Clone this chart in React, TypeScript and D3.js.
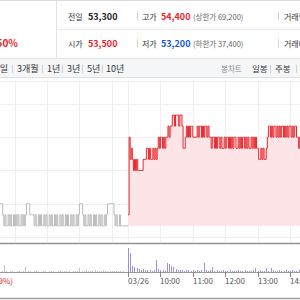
import * as d3 from "d3";
import { useEffect, useRef } from "react";

// 전일 (2분 간격, 11:32 ~ 15:20) 체결가
const prevStart = "11:32";
const prevPrices = [
  53500, 53500, 53500, 53400, 53300, 53400, 53300, 53300, 53400, 53300,
  53400, 53300, 53300, 53400, 53300, 53400, 53300, 53400, 53300, 53300,
  53400, 53300, 53400, 53300, 53400, 53500, 53500, 53500, 53400, 53400,
  53400, 53400, 53300, 53400, 53300, 53300, 53400, 53300, 53400, 53300,
  53300, 53400, 53300, 53400, 53300, 53300, 53400, 53300, 53400, 53300,
  53300, 53400, 53300, 53400, 53300, 53300, 53400, 53300, 53400, 53300,
  53300, 53400, 53300, 53400, 53300, 53300, 53400, 53300, 53400, 53300,
  53300, 53400, 53300, 53400, 53500, 53500, 53500, 53400, 53300, 53400,
  53300, 53300, 53400, 53300, 53400, 53300, 53300, 53400, 53300, 53400,
  53300, 53300, 53400, 53300, 53400, 53300, 53300, 53400, 53300, 53400,
  53500, 53500, 53500, 53500, 53500, 53500, 53400, 53300, 53400, 53300,
  53300, 53400, 53300, 53300,
];
const prevClose = 53300;

// 당일 (2분 간격, 09:00 ~ 14:20)
const todayStart = "09:00";
const todayPrices = [
  53400, 54100, 53900, 54000, 53900, 53800, 53900, 53800, 53900, 53800,
  53800, 53800, 53800, 53800, 53900, 53900, 53900, 54000, 54000, 53900,
  54000, 53900, 53900, 54000, 53900, 54000, 53900, 54000, 54100, 54000,
  54100, 54100, 54000, 54100, 54000, 54100, 54100, 54200, 54100, 54200,
  54200, 54300, 54300, 54200, 54300, 54300, 54300, 54200, 54300, 54300,
  54200, 54000, 54000, 54100, 54200, 54100, 54200, 54100, 54200, 54200,
  54100, 54100, 54100, 54100, 54200, 54100, 54200, 54200, 54100, 54200,
  54100, 54200, 54200, 54100, 54200, 54100,
  54100, 54000, 54100, 54100, 54000, 54100, 54000, 54100, 54100, 54000,
  54100, 54000, 54000, 54100, 54000, 54100, 54100, 54000, 54100, 54000,
  54100, 54000, 54100, 54100, 54000, 54000, 54100, 54000, 54100, 54000,
  54100, 54100, 54000, 54100, 54000, 54100, 54000, 54000, 54100, 54000,
  54100, 54000, 54100, 54000,
  54000, 53900, 53900, 54000, 53900, 54000, 53900, 53900, 54000, 54100,
  54200, 54200, 54100, 54200, 54100, 54200, 54200, 54100, 54200, 54100,
  54200, 54100, 54200, 54200, 54100, 54200, 54100, 54200, 54100, 54200,
  54200, 54100, 54200, 54100, 54200, 54200, 54100,
  54100, 54000, 54100, 54000,
];

// 거래량 (4분 간격)
const prevVolStart = "11:36";
const prevVolume = [
  1, 7, 1, 0, 1, 1, 0, 1, 1, 0,
  1, 5, 1, 1, 0, 1, 2, 1, 0, 1,
  1, 0, 1, 1, 1, 0, 1, 2, 1, 1,
  1, 1, 0, 1, 1, 1, 4, 1, 1, 2,
  1, 1, 1, 2, 1, 1, 1, 2, 1, 1,
  1, 1, 1, 1, 1, 1, 1,
];
const todayVolume = [
  24, 19, 6, 5, 4, 3, 2, 3, 2, 2,
  2, 1, 2, 12, 3, 2, 2, 1, 9, 8,
  6, 5, 3, 2, 2, 2, 1, 2, 2, 1,
  2, 1, 2, 1, 2, 9, 2, 1, 2, 5,
  1, 2, 1, 1, 2, 1, 1, 2, 1, 1,
  1, 2, 1, 1, 2, 1, 1, 1, 2, 4,
  1, 2, 1, 1, 4, 1, 4, 2, 1, 1,
  2, 1, 1, 2, 1, 1, 2, 1, 1, 2,
];

const gridPrices = [53200, 53500, 53800, 54100, 54400];
const prevGridTimes = ["12:00", "13:00", "14:00", "15:00"];
const todayTicks = ["09:00", "10:00", "11:00", "12:00", "13:00", "14:00"];
const todayTickLabels = ["03/26", "10:00", "11:00", "12:00", "13:00", "14:00"];
const periodTabs = ["1주일", "3개월", "1년", "3년", "5년", "10년"];

const RED = "#e8262c";
const BLUE = "#1358d0";
const FONT = "'Noto Sans CJK KR', 'Noto Sans', sans-serif";

const toMin = (s: string) => {
  const [h, m] = s.split(":").map(Number);
  return h * 60 + m;
};
// 장 시간축: 전일 15:30 = 당일 09:00 = 0
const prevT = (s: string) => toMin(s) - toMin("15:30");
const todayT = (s: string) => toMin(s) - toMin("09:00");

export default function App() {
  const svgRef = useRef<SVGSVGElement>(null);
  const width = 300;
  const height = 300;

  useEffect(() => {
    const svg = d3.select(svgRef.current);
    svg.selectAll("*").remove();

    const x = d3.scaleLinear().domain([0, 300]).range([128, 290]);
    const y = d3.scaleLinear().domain([53100, 54600]).range([248, 81.8]);
    const yv = d3.scaleLinear().domain([0, 27]).range([272, 245]);

    const prevData = prevPrices.map((p, i) => ({ t: prevT(prevStart) + i * 2, p }));
    prevData.push({ t: 0, p: prevClose });
    const todayData = todayPrices.map((p, i) => ({ t: todayT(todayStart) + i * 2, p }));

    // header
    const head = svg.append("g").attr("font-family", FONT);
    head.append("rect").attr("x", 0).attr("y", 0).attr("width", width).attr("height", 58).attr("fill", "#fff");
    head.append("line").attr("x1", 0).attr("x2", width).attr("y1", 0.5).attr("y2", 0.5).attr("stroke", "#dcdcdc");
    head.append("line").attr("x1", 56.5).attr("x2", 56.5).attr("y1", 0).attr("y2", 58).attr("stroke", "#e3e3e3");
    head.append("line").attr("x1", 56).attr("x2", width).attr("y1", 29.5).attr("y2", 29.5).attr("stroke", "#ececec");
    head.append("text").attr("x", 18).attr("y", 46.5).attr("text-anchor", "end")
      .attr("font-size", 10).attr("font-weight", "bold").attr("fill", RED).text("+0.50%");

    const rows = [
      { y: 19.5, l1: "전일", v1: "53,300", c1: "#222", l2: "고가", v2: "54,400", c2: RED, sub: "(상한가 69,200)", l3: "거래량" },
      { y: 46.5, l1: "시가", v1: "53,500", c1: RED, l2: "저가", v2: "53,200", c2: BLUE, sub: "(하한가 37,400)", l3: "거래대금" },
    ];
    rows.forEach(r => {
      const g = head.append("g");
      g.append("text").attr("x", 68).attr("y", r.y).attr("font-size", 8).attr("fill", "#333").text(r.l1);
      g.append("text").attr("x", 88).attr("y", r.y).attr("font-size", 9).attr("font-weight", "bold").attr("fill", r.c1).text(r.v1);
      g.append("line").attr("x1", 137.5).attr("x2", 137.5).attr("y1", r.y - 8).attr("y2", r.y + 1).attr("stroke", "#d5d5d5");
      g.append("text").attr("x", 142).attr("y", r.y).attr("font-size", 8).attr("fill", "#333").text(r.l2);
      g.append("text").attr("x", 161).attr("y", r.y).attr("font-size", 9).attr("font-weight", "bold").attr("fill", r.c2).text(r.v2);
      g.append("text").attr("x", 193).attr("y", r.y).attr("font-size", 7.5).attr("fill", "#666").text(r.sub);
      g.append("line").attr("x1", 278.5).attr("x2", 278.5).attr("y1", r.y - 8).attr("y2", r.y + 1).attr("stroke", "#d5d5d5");
      g.append("text").attr("x", 284).attr("y", r.y).attr("font-size", 8).attr("fill", "#333").text(r.l3);
    });

    // period tabs
    const tabs = svg.append("g").attr("font-family", FONT).attr("font-size", 9);
    tabs.append("rect").attr("x", 0).attr("y", 58).attr("width", width).attr("height", 19).attr("fill", "#f5f6f8");
    tabs.append("line").attr("x1", 0).attr("x2", width).attr("y1", 58.5).attr("y2", 58.5).attr("stroke", "#e6e6e6");
    tabs.append("line").attr("x1", 0).attr("x2", width).attr("y1", 77.5).attr("y2", 77.5).attr("stroke", "#e0e0e0");
    const tabX = [8, 17, 47, 67, 87, 106];
    periodTabs.forEach((t, i) => {
      tabs.append("text").attr("x", tabX[i]).attr("y", 72).attr("text-anchor", i === 0 ? "end" : "start")
        .attr("fill", "#333").text(t);
      if (i < periodTabs.length - 1) {
        const sx = [12.5, 42.5, 62.5, 82.5, 102.5][i];
        tabs.append("line").attr("x1", sx).attr("x2", sx).attr("y1", 65).attr("y2", 73).attr("stroke", "#d0d0d0");
      }
    });
    tabs.append("text").attr("x", 221).attr("y", 72).attr("fill", "#8a8a8a").attr("font-size", 7.5).text("봉차트");
    tabs.append("text").attr("x", 252).attr("y", 72).attr("fill", "#333").attr("font-size", 8.5).text("일봉");
    tabs.append("line").attr("x1", 270.5).attr("x2", 270.5).attr("y1", 65).attr("y2", 73).attr("stroke", "#d0d0d0");
    tabs.append("text").attr("x", 275).attr("y", 72).attr("fill", "#333").attr("font-size", 8.5).text("주봉");
    tabs.append("line").attr("x1", 296.5).attr("x2", 296.5).attr("y1", 65).attr("y2", 73).attr("stroke", "#d0d0d0");

    // price grid
    const grid = svg.append("g").attr("stroke", "#efefef");
    grid.append("line").attr("x1", 0).attr("x2", width).attr("y1", 81.5).attr("y2", 81.5);
    gridPrices.forEach(p => {
      grid.append("line").attr("x1", 0).attr("x2", width)
        .attr("y1", Math.round(y(p)) + 0.5).attr("y2", Math.round(y(p)) + 0.5);
    });
    const vTimes = [...prevGridTimes.map(prevT), ...todayTicks.map(todayT)];
    vTimes.forEach(t => {
      grid.append("line").attr("x1", Math.round(x(t)) + 0.5).attr("x2", Math.round(x(t)) + 0.5)
        .attr("y1", 82).attr("y2", 242);
    });

    // today area + line
    const area = d3.area<{ t: number; p: number }>()
      .x(d => x(d.t)).y0(y(prevClose)).y1(d => y(d.p)).curve(d3.curveStepAfter);
    const line = d3.line<{ t: number; p: number }>()
      .x(d => x(d.t)).y(d => y(d.p)).curve(d3.curveStepAfter);

    svg.append("path").datum(todayData).attr("d", area).attr("fill", "#fde4e6");
    svg.append("path").datum(prevData).attr("d", line).attr("fill", "none")
      .attr("stroke", "#b9b9b9").attr("stroke-width", 1);
    svg.append("path").datum(todayData).attr("d", line).attr("fill", "none")
      .attr("stroke", RED).attr("stroke-width", 1);

    // separators
    svg.append("line").attr("x1", 0).attr("x2", width).attr("y1", 243.5).attr("y2", 243.5)
      .attr("stroke", "#8f8f8f").attr("stroke-width", 1.5);

    // volume
    prevVolume.forEach((v, i) => {
      if (!v) return;
      const t = prevT(prevVolStart) + i * 4;
      svg.append("rect").attr("x", Math.round(x(t))).attr("y", yv(v)).attr("width", 1)
        .attr("height", yv(0) - yv(v)).attr("fill", "#c4c4c4");
    });
    todayVolume.forEach((v, i) => {
      const t = i * 4;
      svg.append("rect").attr("x", Math.round(x(t))).attr("y", yv(v)).attr("width", 1)
        .attr("height", yv(0) - yv(v)).attr("fill", "#a092d6");
    });
    svg.append("line").attr("x1", 0).attr("x2", width).attr("y1", 272.5).attr("y2", 272.5).attr("stroke", "#999");

    // time axis
    const axis = svg.append("g").attr("font-family", FONT).attr("font-size", 8).attr("fill", "#555");
    todayTicks.forEach((t, i) => {
      const xx = Math.round(x(todayT(t))) + 0.5;
      axis.append("line").attr("x1", xx).attr("x2", xx).attr("y1", 272).attr("y2", 277).attr("stroke", "#888");
      axis.append("text").attr("x", xx - 0.5).attr("y", 283.5).text(todayTickLabels[i]);
    });
    axis.append("text").attr("x", 13).attr("y", 283.5).attr("text-anchor", "end")
      .attr("fill", RED).text("(+0.39%)");

    svg.append("line").attr("x1", 0).attr("x2", width).attr("y1", 298.5).attr("y2", 298.5)
      .attr("stroke", "#a0a0a0").attr("stroke-width", 1.5);
  }, []);

  return (
    <div style={{ position: "absolute", left: 0, top: 0, width, height, background: "#fff" }}>
      <svg ref={svgRef} width={width} height={height} style={{ display: "block" }} />
    </div>
  );
}
